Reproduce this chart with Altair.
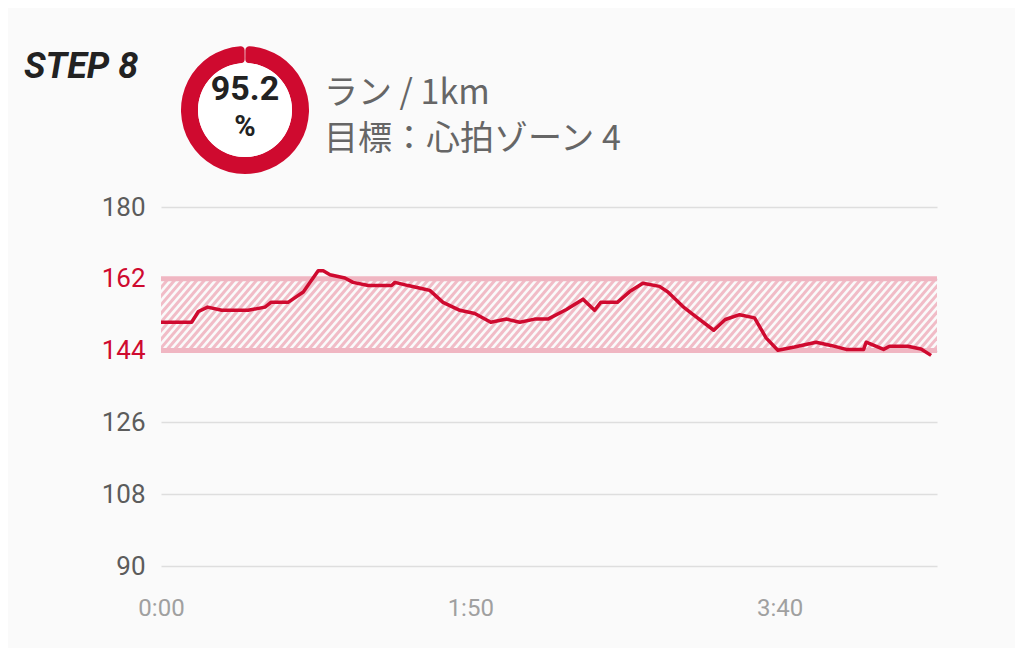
import altair as alt
import pandas as pd
import math

# ---- data ----
times = [0, 10.9, 13.3, 16.6, 21.6, 31.0, 37.0, 39.1, 45.2, 50.6, 55.9, 57.7, 60.1, 65.4,
         68.3, 73.7, 82.0, 83.2, 87.9, 93.8, 95.6, 100.3, 106.3, 111.6, 117.3, 122.9,
         127.6, 132.9, 137.6, 144.2, 150.1, 154.2, 156.4, 162.3, 166.7, 171.4, 177.3,
         180.3, 186.2, 188.6, 196.6, 200.7, 205.8, 211.1, 215.2, 219.4, 225.3, 233.0,
         238.3, 243.7, 249.9, 250.8, 257.0, 259.1, 265.6, 270.3, 273.9]
bpm = [151.1, 151.1, 153.8, 154.9, 154.1, 154.1, 154.9, 156.1, 156.1, 158.7, 164.0, 164.0,
       163.0, 162.2, 161.1, 160.3, 160.3, 161.1, 160.3, 159.4, 159.1, 156.1, 154.1, 153.3,
       151.1, 151.9, 151.1, 151.9, 151.9, 154.3, 156.9, 154.1, 156.1, 156.1, 158.8, 160.9,
       160.1, 158.7, 154.7, 153.4, 149.1, 151.8, 153.0, 152.2, 147.2, 144.1, 144.9, 146.1,
       145.3, 144.3, 144.3, 146.1, 144.3, 145.1, 145.1, 144.4, 142.8]
zone_low = 144
zone_high = 162
y_ticks = [90, 108, 126, 144, 162, 180]
x_ticks = [0, 110, 220]
x_max = 276
pct = 95.2
step_label = "STEP 8"
line1 = "ラン / 1km"
line2 = "目標：心拍ゾーン 4"

RED = "#cf0a2f"
PINK_BORDER = "#f0b6c2"
PINK_HATCH = "#f1bcc7"
BG = "#fafafa"

df = pd.DataFrame({"t": times, "bpm": bpm})

# hatch lines across the zone band
hatch_step = 2.65
hatch_run = 22.0
starts = []
s = -hatch_run
while s < x_max:
    starts.append(s)
    s += hatch_step
hatch = pd.DataFrame({"t0": starts, "t1": [v + hatch_run for v in starts],
                      "lo": zone_low, "hi": zone_high})
borders = pd.DataFrame({"bpm": [zone_low, zone_high]})

W, H = 776, 359

x_scale = alt.Scale(domain=[0, x_max], nice=False, zero=False)
y_scale = alt.Scale(domain=[90, 180], nice=False, zero=False)

x_axis = alt.Axis(values=x_ticks, title=None, grid=False, domain=False, ticks=False,
                  labelExpr="floor(datum.value/60) + ':' + (datum.value%60 < 10 ? '0' : '') + (datum.value%60)",
                  labelFont="Roboto", labelFontSize=24, labelColor="#a0a0a0", labelPadding=30,
                  labelFlush=False)
y_axis = alt.Axis(values=y_ticks, title=None, grid=True, domain=False, ticks=False,
                  gridColor="#dedede", gridWidth=1.5,
                  labelFont="Roboto", labelFontSize=26, labelPadding=16,
                  labelColor={"condition": {"test": "datum.value == 144 || datum.value == 162",
                                            "value": RED}, "value": "#5c5c5c"})

hatch_layer = alt.Chart(hatch).mark_rule(clip=True, color=PINK_HATCH, strokeWidth=3).encode(
    x=alt.X("t0:Q", scale=x_scale, axis=x_axis),
    x2="t1:Q",
    y=alt.Y("lo:Q", scale=y_scale, axis=y_axis),
    y2="hi:Q",
)

border_layer = alt.Chart(borders).mark_rule(color=PINK_BORDER, strokeWidth=5).encode(
    y=alt.Y("bpm:Q", scale=y_scale),
)

line_layer = alt.Chart(df).mark_line(color=RED, strokeWidth=3.5, strokeJoin="round").encode(
    x=alt.X("t:Q", scale=x_scale),
    y=alt.Y("bpm:Q", scale=y_scale),
)

# header: donut ring
ring_outer, ring_inner = 64, 47
CX, CY = 84, -97
gap = 0.012
ring_df = pd.DataFrame({"v": [pct]})
ring = alt.Chart(ring_df).mark_arc(
    color=RED, radius=ring_outer, radius2=ring_inner, cornerRadius=4,
    theta=gap / 2, theta2=2 * math.pi - gap / 2,
).encode(x=alt.value(CX), y=alt.value(CY))

inner_df = pd.DataFrame({"v": [1]})
inner = alt.Chart(inner_df).mark_arc(color="white", radius=ring_inner, theta=0,
                                     theta2=2 * math.pi).encode(x=alt.value(CX), y=alt.value(CY))

pct_text = alt.Chart(pd.DataFrame({"label": [f"{pct}"]})).mark_text(
    font="Roboto", fontWeight="bold", fontSize=34, color="#222", baseline="middle", align="center"
).encode(x=alt.value(CX), y=alt.value(-117), text="label:N")
pct_sign = alt.Chart(pd.DataFrame({"label": ["%"]})).mark_text(
    font="Roboto", fontWeight="bold", fontSize=29, color="#222", baseline="middle", align="center"
).encode(x=alt.value(CX), y=alt.value(-80), text="label:N")

step_text = alt.Chart(pd.DataFrame({"label": [step_label]})).mark_text(
    font="Roboto", fontWeight="bold", fontStyle="italic", fontSize=36, color="#222",
    baseline="alphabetic", align="left"
).encode(x=alt.value(-137), y=alt.value(-129), text="label:N")

t1 = alt.Chart(pd.DataFrame({"label": [line1]})).mark_text(
    font="Noto Sans CJK JP", fontSize=34, color="#666", baseline="middle", align="left"
).encode(x=alt.value(163), y=alt.value(-113), text="label:N")
t2 = alt.Chart(pd.DataFrame({"label": [line2]})).mark_text(
    font="Noto Sans CJK JP", fontSize=34, color="#666", baseline="middle", align="left"
).encode(x=alt.value(163), y=alt.value(-67), text="label:N")

chart = alt.layer(hatch_layer, border_layer, line_layer, ring, inner, pct_text, pct_sign,
                  step_text, t1, t2).properties(
    width=W, height=H,
    autosize=alt.AutoSizeParams(type="none"),
    padding={"left": 153, "top": 199, "right": 78, "bottom": 82},
    background=BG,
).configure_view(stroke=None)

chart.save("out.html", embed_options={"renderer": "svg", "actions": False})
